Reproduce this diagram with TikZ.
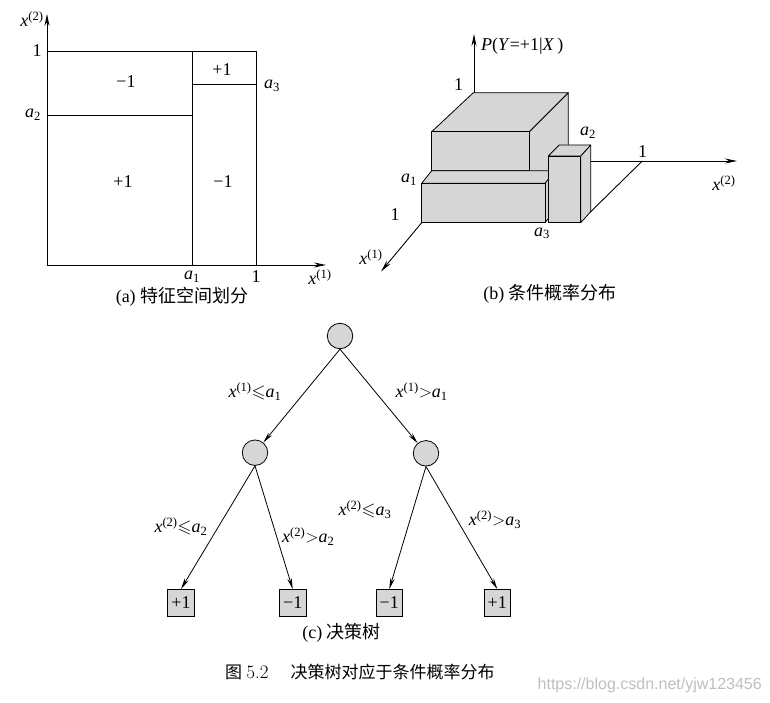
\documentclass[tikz,border=0pt]{standalone}
\usepackage{amssymb}
\usepackage{fontspec}
\setmainfont{Liberation Serif}
\newfontfamily\cjk{Noto Sans CJK SC}
\newfontfamily\lmr{Latin Modern Roman}
\newfontfamily\wmfont{Liberation Sans}
\usetikzlibrary{arrows.meta}
\newcommand\xx[1]{\textit{x}\textsuperscript{(#1)}}
\newcommand\asub[1]{\textit{a}\textsubscript{#1}}
\definecolor{boxgray}{HTML}{D6D6D6}
\tikzset{
  ln/.style={line width=0.9pt},
  axis/.style={line width=0.9pt,-{Stealth[length=12pt,width=5pt]}},
  tarrow/.style={line width=0.8pt,-{Stealth[length=11pt,width=4.5pt]}},
  face/.style={fill=boxgray,draw=black,line width=0.8pt,line join=round},
  lbl/.style={font=\fontsize{18}{21}\selectfont,inner sep=0pt},
  captext/.style={font=\fontsize{18}{21}\selectfont,inner sep=0pt},
  inner/.style={circle,draw,fill=boxgray,line width=0.8pt,minimum size=25.5pt,inner sep=0pt},
  leaf/.style={rectangle,draw,fill=boxgray,line width=0.8pt,minimum size=26.5pt,inner sep=0pt,font=\fontsize{18}{21}\selectfont}
}
\begin{document}
\begin{tikzpicture}[x=1pt,y=-1pt]
\useasboundingbox (0,0) rectangle (770,703);
% ---------- panel (a)
\coordinate (aO) at (47,265);
\coordinate (aY) at (47,14);
\coordinate (aX) at (326,265);
\draw[axis] (aO) -- (aY);
\draw[axis] (aO) -- (aX);
\draw[ln] (47,51) -- (256,51) -- (256,265);
\draw[ln] (192,51) -- (192,265);
\draw[ln] (47,115) -- (192,115);
\draw[ln] (192,84) -- (256,84);
\node[lbl] (ay) at (32,19) {\xx{2}};
\node[lbl] (a1top) at (37,51) {1};
\node[lbl] (aa2) at (33,115) {\asub{2}};
\node[lbl] (aa3) at (272,86) {\asub{3}};
\node[lbl] (aa1) at (192,277) {\asub{1}};
\node[lbl] (aone) at (256,277) {1};
\node[lbl] (ax) at (320,277) {\xx{1}};
\node[lbl] (r1) at (126,82) {−1};
\node[lbl] (r2) at (222,70) {+1};
\node[lbl] (r3) at (123,182) {+1};
\node[lbl] (r4) at (223,182) {−1};
\node[captext] (capa) at (182,297) {(a) {\cjk 特征空间划分}};
% ---------- panel (b)
\draw[axis] (474,92.7) -- (474,34);
\node[lbl,anchor=west] (pl) at (481,46.7) {\textit{P}(\textit{Y}=+1|\textit{X}\,)};
\node[lbl] (b1) at (458.5,85) {1};
% big box
\draw[face] (529.3,131.7) -- (568.3,92.7) -- (568.3,165) -- (529.3,180) -- cycle;
\draw[face] (473.3,92.7) -- (568.3,92.7) -- (529.3,131.7) -- (431.7,131.7) -- cycle;
\draw[face] (431.7,131.7) rectangle (529.3,170.7);
% lower box
\draw[face] (545,183.3) -- (555,170.7) -- (555,210) -- (545,222.7) -- cycle;
\draw[face] (421.7,183.3) -- (545,183.3) -- (555,170.7) -- (431.7,170.7) -- cycle;
\draw[face] (421.7,183.3) rectangle (545,222.7);
% tall box
\draw[face] (580.7,156) -- (590.7,145) -- (590.7,211.7) -- (580.7,222.7) -- cycle;
\draw[face] (548.3,156) -- (580.7,156) -- (590.7,145) -- (559.3,145) -- cycle;
\draw[face] (548.3,156) rectangle (580.7,222.7);
% axes of (b)
\draw[axis] (590.7,161) -- (737,161);
\draw[ln] (642.3,161) -- (590.7,211.7);
\draw[axis] (421.7,222.7) -- (381,271.5);
\node[lbl] (ba1) at (409,180) {\asub{1}};
\node[lbl] (bone) at (395,215) {1};
\node[lbl] (bx1) at (371,257) {\xx{1}};
\node[lbl] (ba2) at (588,133) {\asub{2}};
\node[lbl] (bone2) at (642.5,152) {1};
\node[lbl] (bx2) at (724,183) {\xx{2}};
\node[lbl] (ba3) at (542,233.5) {\asub{3}};
\node[captext] (capb) at (550,293.5) {(b) {\cjk 条件概率分布}};
% ---------- panel (c)
\node[inner] (root) at (340,336) {};
\node[inner] (L) at (255,452.7) {};
\node[inner] (R) at (426,453.3) {};
\node[leaf] (LL) at (181,602.7) {+1};
\node[leaf] (LR) at (292.7,602.7) {−1};
\node[leaf] (RL) at (389.3,602.7) {−1};
\node[leaf] (RR) at (497.3,602.7) {+1};
\draw[tarrow] (root.south) -- (L);
\draw[tarrow] (root.south) -- (R);
\draw[tarrow] (L.south) -- (LL.north);
\draw[tarrow] (L.south) -- (LR.north);
\draw[tarrow] (R.south) -- (RL.north);
\draw[tarrow] (R.south) -- (RR.north);
\node[lbl] (e1) at (255,391.7) {\xx{1}$\leqslant$\asub{1}};
\node[lbl] (e2) at (421.7,391.7) {\xx{1}$>$\asub{1}};
\node[lbl] (e3) at (181,526.7) {\xx{2}$\leqslant$\asub{2}};
\node[lbl] (e4) at (308.3,536.7) {\xx{2}$>$\asub{2}};
\node[lbl] (e5) at (365,509.3) {\xx{2}$\leqslant$\asub{3}};
\node[lbl] (e6) at (495,519.3) {\xx{2}$>$\asub{3}};
\node[captext] (capc) at (341.7,632.7) {(c) {\cjk 决策树}};
% ---------- caption
\node[anchor=west,inner sep=0pt,font=\fontsize{17}{20}\selectfont] (fig) at (225,672.3) {{\cjk 图} {\lmr\fontsize{19}{20}\selectfont 5.2}\hspace{1.3em}{\cjk 决策树对应于条件概率分布}};
\node[anchor=east,inner sep=0pt,font=\wmfont\fontsize{16}{18}\selectfont,text=black!25] (wm) at (762,685) {https://blog.csdn.net/yjw123456};
\end{tikzpicture}
\end{document}
